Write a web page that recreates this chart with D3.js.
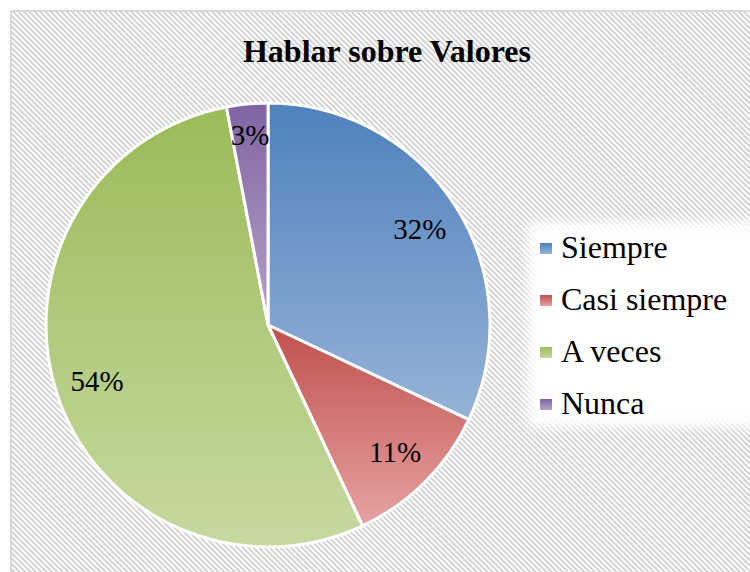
<!DOCTYPE html>
<html>
<head>
<meta charset="utf-8">
<script src="https://cdn.jsdelivr.net/npm/d3@7"></script>
<style>
  body { margin: 0; background: #fff; }
  svg { display: block; }
</style>
</head>
<body>
<div id="chart"></div>
<script>
const categories = ["Siempre", "Casi siempre", "A veces", "Nunca"]
const values = [32, 11, 54, 3]
const labels = ["32%", "11%", "54%", "3%"]
const colorsTop = ["#4f81bd", "#c0504d", "#9bbb59", "#8064a2"]
const colorsBottom = ["#95b3d7", "#e6a3a2", "#c6d9a0", "#b4a3c9"]

const width = 750
const height = 572
const serif = "Liberation Serif"

const svg = d3.select("#chart")
    .append("svg")
    .attr("width", width)
    .attr("height", height)

const defs = svg.append("defs")

const hatch = defs.append("pattern")
    .attr("id", "hatch")
    .attr("patternUnits", "userSpaceOnUse")
    .attr("width", 3.8)
    .attr("height", 3.8)
    .attr("patternTransform", "rotate(-45)")
hatch.append("rect").attr("width", 3.8).attr("height", 3.8).attr("fill", "#fff")
hatch.append("rect").attr("width", 1.9).attr("height", 3.8).attr("fill", "#d2d2d2")

categories.forEach((c, i) => {
    const g = defs.append("linearGradient")
        .attr("id", "grad" + i)
        .attr("x1", 0).attr("y1", 0).attr("x2", 0).attr("y2", 1)
    g.append("stop").attr("offset", "0%").attr("stop-color", colorsTop[i])
    g.append("stop").attr("offset", "100%").attr("stop-color", colorsBottom[i])
})

const blur = defs.append("filter").attr("id", "soft")
    .attr("x", "-20%").attr("y", "-20%").attr("width", "140%").attr("height", "140%")
blur.append("feGaussianBlur").attr("stdDeviation", 6)

// chart area
svg.append("rect")
    .attr("x", 11).attr("y", 11)
    .attr("width", width + 20).attr("height", height + 20)
    .attr("fill", "url(#hatch)")
    .attr("stroke", "#d9d9d9")
    .attr("stroke-width", 2)

svg.append("text")
    .attr("x", 387).attr("y", 62)
    .attr("text-anchor", "middle")
    .attr("font-family", serif)
    .attr("font-weight", "bold")
    .attr("font-size", "32px")
    .attr("fill", "#000")
    .text("Hablar sobre Valores")

const cx = 268, cy = 325, radius = 222

const pie = d3.pie().sort(null).value(d => d)
const arc = d3.arc().innerRadius(0).outerRadius(radius)
const arcs = pie(values)

const g = svg.append("g").attr("transform", `translate(${cx},${cy})`)

g.selectAll("path.slice")
    .data(arcs)
    .enter().append("path")
    .attr("class", "slice")
    .attr("d", arc)
    .attr("fill", (d, i) => `url(#grad${i})`)
    .attr("stroke", "#fff")
    .attr("stroke-width", 3)
    .attr("stroke-linejoin", "round")

const labelArc = d3.arc().innerRadius(radius * 0.81).outerRadius(radius * 0.81)
const smallArc = d3.arc().innerRadius(radius * 0.86).outerRadius(radius * 0.86)

g.selectAll("text.lbl")
    .data(arcs)
    .enter().append("text")
    .attr("class", "lbl")
    .attr("transform", d => {
        const p = (d.endAngle - d.startAngle < 0.3 ? smallArc : labelArc).centroid(d)
        return `translate(${p[0]},${p[1]})`
    })
    .attr("dy", "0.35em")
    .attr("text-anchor", "middle")
    .attr("font-family", serif)
    .attr("font-size", "29px")
    .attr("fill", "#000")
    .text((d, i) => labels[i])

// legend
svg.append("rect")
    .attr("x", 528).attr("y", 222)
    .attr("width", 240).attr("height", 205)
    .attr("fill", "#fff")
    .attr("filter", "url(#soft)")

const legendY = d3.scalePoint().domain(categories).range([258, 414])

const item = svg.selectAll("g.item")
    .data(categories)
    .enter().append("g")
    .attr("class", "item")
    .attr("transform", d => `translate(540,${legendY(d)})`)

item.append("rect")
    .attr("x", 0).attr("y", -15)
    .attr("width", 12).attr("height", 11)
    .attr("fill", (d, i) => `url(#grad${i})`)

item.append("text")
    .attr("x", 21).attr("y", 0)
    .attr("font-family", serif)
    .attr("font-size", "32px")
    .attr("fill", "#000")
    .text(d => d)
</script>
</body>
</html>
